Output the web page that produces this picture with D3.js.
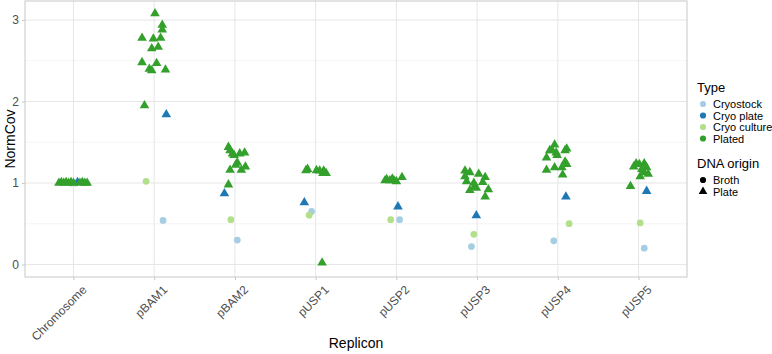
<!DOCTYPE html>
<html>
<head>
<meta charset="utf-8">
<script src="https://cdn.jsdelivr.net/npm/d3@7"></script>
<style>
  body { margin: 0; background: #fff; }
  text { font-family: "Liberation Sans", Arial, sans-serif; }
</style>
</head>
<body>
<div id="chart"></div>
<script>
// categories on the x axis
const replicons = ["Chromosome", "pBAM1", "pBAM2", "pUSP1", "pUSP2", "pUSP3", "pUSP4", "pUSP5"];
const yTicks = [0, 1, 2, 3];

const typeNames = ["Cryostock", "Cryo plate", "Cryo culture", "Plated"];
const typeColors = ["#a6cee3", "#1f78b4", "#b2df8a", "#33a02c"];
const originNames = ["Broth", "Plate"];

// [replicon, NormCov, jitter (in category widths)]
const cryostock = [
  ["Chromosome", 1.00, 0.02], ["pBAM1", 0.54, 0.11], ["pBAM2", 0.30, 0.03],
  ["pUSP1", 0.65, -0.05], ["pUSP2", 0.55, 0.04], ["pUSP3", 0.22, -0.07],
  ["pUSP4", 0.29, -0.05], ["pUSP5", 0.20, 0.07]
];
const cryoCulture = [
  ["Chromosome", 1.00, -0.03], ["pBAM1", 1.02, -0.10], ["pBAM2", 0.55, -0.05],
  ["pUSP1", 0.605, -0.08], ["pUSP2", 0.55, -0.07], ["pUSP3", 0.37, -0.04],
  ["pUSP4", 0.50, 0.14], ["pUSP5", 0.51, 0.02]
];
const cryoPlate = [
  ["Chromosome", 1.01, 0.05], ["pBAM1", 1.84, 0.15], ["pBAM2", 0.87, -0.13],
  ["pUSP1", 0.76, -0.14], ["pUSP2", 0.71, 0.02], ["pUSP3", 0.60, -0.01],
  ["pUSP4", 0.83, 0.10], ["pUSP5", 0.90, 0.10]
];
const plated = [
  ["Chromosome", 1.00, -0.18], ["Chromosome", 1.01, -0.15], ["Chromosome", 1.00, -0.12],
  ["Chromosome", 1.01, -0.09], ["Chromosome", 1.00, -0.06], ["Chromosome", 1.01, -0.03],
  ["Chromosome", 1.00, 0.00], ["Chromosome", 1.00, 0.08], ["Chromosome", 1.01, 0.11],
  ["Chromosome", 1.00, 0.14], ["Chromosome", 1.00, 0.17],
  ["pBAM1", 3.08, 0.01], ["pBAM1", 2.94, 0.10], ["pBAM1", 2.88, 0.10], ["pBAM1", 2.78, -0.15],
  ["pBAM1", 2.77, -0.01], ["pBAM1", 2.78, 0.08], ["pBAM1", 2.65, -0.03], ["pBAM1", 2.67, 0.05],
  ["pBAM1", 2.48, -0.15], ["pBAM1", 2.47, 0.03], ["pBAM1", 2.40, -0.06], ["pBAM1", 2.38, -0.03],
  ["pBAM1", 2.39, 0.14], ["pBAM1", 1.95, -0.12],
  ["pBAM2", 1.44, -0.08], ["pBAM2", 1.40, -0.06], ["pBAM2", 1.36, -0.03], ["pBAM2", 1.34, -0.01],
  ["pBAM2", 1.36, 0.06], ["pBAM2", 1.37, 0.12], ["pBAM2", 1.25, 0.03], ["pBAM2", 1.22, 0.01],
  ["pBAM2", 1.20, 0.13], ["pBAM2", 1.16, 0.08], ["pBAM2", 1.16, -0.06], ["pBAM2", 0.98, -0.08],
  ["pUSP1", 1.155, -0.12], ["pUSP1", 1.17, -0.10], ["pUSP1", 1.155, 0.01], ["pUSP1", 1.15, 0.05],
  ["pUSP1", 1.15, 0.10], ["pUSP1", 1.12, 0.13], ["pUSP1", 1.12, 0.09], ["pUSP1", 0.02, 0.08],
  ["pUSP2", 1.03, -0.14], ["pUSP2", 1.045, -0.12], ["pUSP2", 1.03, -0.08], ["pUSP2", 1.05, -0.05],
  ["pUSP2", 1.03, -0.03], ["pUSP2", 1.02, 0.00], ["pUSP2", 1.07, 0.07],
  ["pUSP3", 1.15, -0.15], ["pUSP3", 1.13, -0.09], ["pUSP3", 1.08, -0.15], ["pUSP3", 1.11, 0.02],
  ["pUSP3", 1.07, 0.10], ["pUSP3", 1.02, -0.13], ["pUSP3", 1.00, -0.04], ["pUSP3", 1.01, 0.07],
  ["pUSP3", 0.91, -0.09], ["pUSP3", 0.94, -0.01], ["pUSP3", 0.92, 0.14], ["pUSP3", 0.83, 0.10],
  ["pUSP3", 0.96, -0.03],
  ["pUSP4", 1.47, -0.04], ["pUSP4", 1.40, -0.10], ["pUSP4", 1.40, -0.07], ["pUSP4", 1.37, -0.02],
  ["pUSP4", 1.42, 0.11], ["pUSP4", 1.40, 0.09], ["pUSP4", 1.31, -0.14], ["pUSP4", 1.34, -0.01],
  ["pUSP4", 1.26, 0.09], ["pUSP4", 1.23, 0.11], ["pUSP4", 1.19, -0.04], ["pUSP4", 1.19, 0.05],
  ["pUSP4", 1.16, -0.14], ["pUSP4", 1.10, 0.06],
  ["pUSP5", 1.24, -0.03], ["pUSP5", 1.23, 0.01], ["pUSP5", 1.24, 0.07], ["pUSP5", 1.20, -0.06],
  ["pUSP5", 1.19, 0.10], ["pUSP5", 1.17, 0.04], ["pUSP5", 1.11, 0.12], ["pUSP5", 1.13, 0.07],
  ["pUSP5", 1.08, 0.02], ["pUSP5", 0.96, -0.10]
];

const W = 772, H = 354;
const panel = {left: 25, right: 687, top: 1, bottom: 277};

const svg = d3.select("#chart").append("svg")
  .attr("width", W).attr("height", H);

// discrete x with ggplot-style 0.6 expansion
const x = d3.scalePoint().domain(replicons)
  .range([panel.left, panel.right]).padding(0.6);
const step = x.step();
const y = d3.scaleLinear().domain([-0.154, 3.234]).range([panel.bottom, panel.top]);

// grid
const grid = svg.append("g");
grid.selectAll(".minor").data([0.5, 1.5, 2.5]).enter().append("line")
  .attr("x1", panel.left).attr("x2", panel.right)
  .attr("y1", d => y(d)).attr("y2", d => y(d))
  .attr("stroke", "#f3f3f3").attr("stroke-width", 0.8);
grid.selectAll(".major").data(yTicks).enter().append("line")
  .attr("x1", panel.left).attr("x2", panel.right)
  .attr("y1", d => y(d)).attr("y2", d => y(d))
  .attr("stroke", "#e6e6e6").attr("stroke-width", 1);
grid.selectAll(".vmajor").data(replicons).enter().append("line")
  .attr("x1", d => x(d)).attr("x2", d => x(d))
  .attr("y1", panel.top).attr("y2", panel.bottom)
  .attr("stroke", "#e6e6e6").attr("stroke-width", 1);

// points
const circ = d3.symbol().type(d3.symbolCircle).size(36);
const tri = d3.symbol().type(d3.symbolTriangle).size(40);
const layers = [
  {rows: cryostock, color: typeColors[0], sym: circ},
  {rows: cryoCulture, color: typeColors[2], sym: circ},
  {rows: cryoPlate, color: typeColors[1], sym: tri},
  {rows: plated, color: typeColors[3], sym: tri}
];
layers.forEach(l => {
  svg.append("g").selectAll("path").data(l.rows).enter().append("path")
    .attr("d", l.sym)
    .attr("transform", d => `translate(${x(d[0]) + d[2] * step},${y(d[1])})`)
    .attr("fill", l.color);
});

// panel border
svg.append("rect")
  .attr("x", panel.left).attr("y", panel.top)
  .attr("width", panel.right - panel.left).attr("height", panel.bottom - panel.top)
  .attr("fill", "none").attr("stroke", "#c8c8c8").attr("stroke-width", 1);

// y axis
const yAxis = svg.append("g")
  .attr("transform", `translate(${panel.left},0)`)
  .call(d3.axisLeft(y).tickValues(yTicks).tickFormat(d3.format("d")).tickSize(3).tickPadding(3));
yAxis.select(".domain").remove();
yAxis.selectAll("line").attr("stroke", "#c8c8c8");
yAxis.selectAll("text").attr("fill", "#4d4d4d").style("font-size", "12px")
  .style("font-family", "'Liberation Sans', Arial, sans-serif");

// x axis
const xAxis = svg.append("g")
  .attr("transform", `translate(0,${panel.bottom})`)
  .call(d3.axisBottom(x).tickSize(3).tickPadding(2));
xAxis.select(".domain").remove();
xAxis.selectAll("line").attr("stroke", "#c8c8c8");
xAxis.selectAll("text")
  .attr("fill", "#4d4d4d").style("font-size", "12px")
  .style("font-family", "'Liberation Sans', Arial, sans-serif")
  .style("text-anchor", "end")
  .attr("dy", "0.7em")
  .attr("transform", "translate(4,4) rotate(-45)");

// axis titles
svg.append("text")
  .attr("x", (panel.left + panel.right) / 2).attr("y", 348)
  .attr("text-anchor", "middle").style("font-size", "14px").attr("fill", "#000")
  .text("Replicon");
svg.append("text")
  .attr("transform", `translate(15,${(panel.top + panel.bottom) / 2}) rotate(-90)`)
  .attr("text-anchor", "middle").style("font-size", "14px").attr("fill", "#000")
  .text("NormCov");

// legend
const lg = svg.append("g");
lg.append("text").attr("x", 697).attr("y", 92).style("font-size", "13px").text("Type");
typeNames.forEach((t, i) => {
  const cy = 104 + i * 11.5;
  lg.append("path").attr("d", d3.symbol().type(d3.symbolCircle).size(30)())
    .attr("transform", `translate(703,${cy})`).attr("fill", typeColors[i]);
  lg.append("text").attr("x", 713).attr("y", cy + 4)
    .style("font-size", "11px").attr("fill", "#000").text(t);
});
lg.append("text").attr("x", 697).attr("y", 168).style("font-size", "13px").text("DNA origin");
originNames.forEach((o, i) => {
  const cy = 180 + i * 11.5;
  const s = i === 0 ? d3.symbol().type(d3.symbolCircle).size(30)
                    : d3.symbol().type(d3.symbolTriangle).size(32);
  lg.append("path").attr("d", s()).attr("transform", `translate(703,${cy})`).attr("fill", "#000");
  lg.append("text").attr("x", 713).attr("y", cy + 4)
    .style("font-size", "11px").attr("fill", "#000").text(o);
});
</script>
</body>
</html>
